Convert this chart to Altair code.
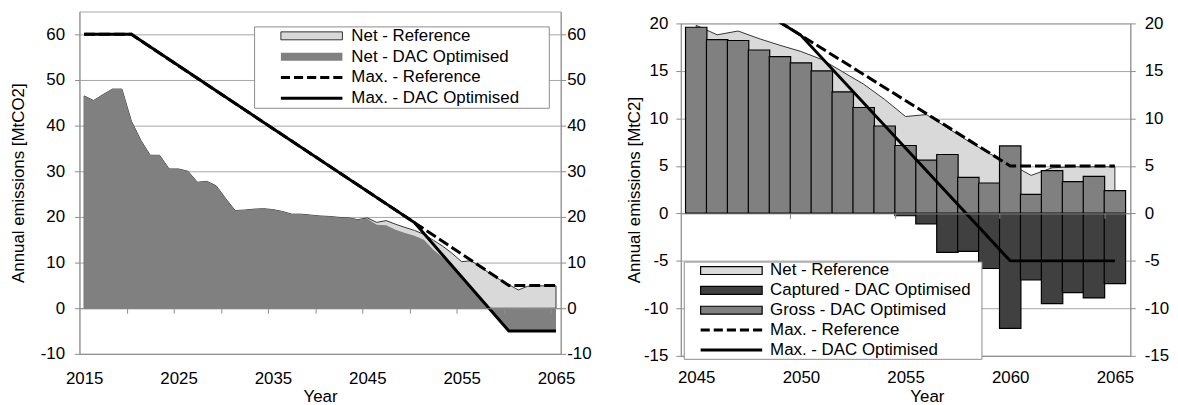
import altair as alt
import pandas as pd

FONT = "Liberation Sans"

# ---------------- data ----------------
years_left = list(range(2015, 2066))
net_reference = [46.5, 45.5, 46.8, 48.0, 48.0, 41.0, 36.8, 33.5, 33.5, 30.5,
                 30.5, 30.0, 27.6, 27.8, 26.8, 24.0, 21.4, 21.5, 21.7, 21.8,
                 21.6, 21.2, 20.6, 20.6, 20.4, 20.2, 20.1, 19.9, 19.8, 19.4,
                 19.8, 18.8, 19.2, 18.4, 17.7, 17.05, 16.2, 14.9, 13.6, 12.0,
                 10.2, 10.4, 9.0, 7.6, 6.3, 5.2, 4.0, 4.8, 4.9, 4.9,
                 4.9]
net_dac_optimised = [46.5, 45.5, 46.8, 48.0, 48.0, 41.0, 36.8, 33.5, 33.5, 30.5,
                     30.5, 30.0, 27.6, 27.8, 26.8, 24.0, 21.4, 21.5, 21.7, 21.8,
                     21.6, 21.2, 20.6, 20.6, 20.4, 20.2, 20.1, 19.9, 19.8, 19.4,
                     19.6, 18.3, 18.2, 17.2, 16.5, 15.85, 15.0, 12.8, 11.15, 9.2,
                     6.9, 4.5, 2.1, -0.2, -2.6, -5.0, -5.0, -5.0, -5.0, -5.0,
                     -5.0]

years_right = list(range(2045, 2066))
gross_dac_optimised = [19.6, 18.3, 18.2, 17.2, 16.5, 15.85, 15.0, 12.8, 11.15, 9.2,
                       7.15, 5.6, 6.2, 3.8, 3.2, 7.1, 2.0, 4.5, 3.35, 3.9,
                       2.4]
captured_dac_optimised = [0, 0, 0, 0, 0, 0, 0, 0, 0, 0,
                          -0.25, -1.1, -4.1, -4.0, -5.8, -12.1, -7.0, -9.5, -8.35, -8.9,
                          -7.4]

max_years = [2015, 2020, 2050, 2060, 2065]
max_reference = [60, 60, 18.75, 5, 5]
max_dac_optimised = [60, 60, 18.75, -5, -5]

left_y_ticks = [-10, 0, 10, 20, 30, 40, 50, 60]
left_x_labels = [2015, 2025, 2035, 2045, 2055, 2065]
left_x_ticks = [2019.5, 2024.5, 2029.5, 2034.5, 2039.5, 2044.5, 2049.5, 2054.5, 2059.5, 2064.5]
right_y_ticks = [-15, -10, -5, 0, 5, 10, 15, 20]
right_x_labels = [2045, 2050, 2055, 2060, 2065]
right_x_ticks = [2049.5, 2054.5, 2059.5, 2064.5]

left_legend_names = ["Net - Reference", "Net - DAC Optimised",
                     "Max. - Reference", "Max. - DAC Optimised"]
right_legend_names = ["Net - Reference", "Captured - DAC Optimised", "Gross - DAC Optimised",
                      "Max. - Reference", "Max. - DAC Optimised"]

# ---------------- styles ----------------
LIGHT, MID, DARK = "#d9d9d9", "#808080", "#404040"
OUTLINE = "#333333"
GRID, AXIS = "#a6a6a6", "#8c8c8c"
NEG_EXPR = "(datum.value < 0 ? '-' : '') + abs(datum.value)"
ZW = "\u200b"


def box(x0, x1, y0, y1):
    return f"M{x0:.4f},{y0:.4f}H{x1:.4f}V{y1:.4f}H{x0:.4f}Z"


def swatches(sym_px, sw_w, sw_h, line_w, dash, gap):
    u = sym_px / 2.0
    hw = sw_w / 2.0
    rect = box(-hw / u, hw / u, -sw_h / 2 / u, sw_h / 2 / u)
    lh = line_w / 2 / u
    solid = box(-hw / u, hw / u, -lh, lh)
    parts = []
    x = -hw
    while x < hw - 0.5:
        x1 = min(x + dash, hw)
        parts.append(box(x / u, x1 / u, -lh, lh))
        x = x1 + gap
    return rect, solid, "".join(parts)


def legend_layer(names, fills, strokes, shapes, legend):
    df = pd.DataFrame({"series": names})
    return alt.Chart(df).mark_point(filled=True, opacity=1).encode(
        fill=alt.Fill("series:N", scale=alt.Scale(domain=names, range=fills), legend=legend),
        stroke=alt.Stroke("series:N", scale=alt.Scale(domain=names, range=strokes), legend=legend),
        shape=alt.Shape("series:N", scale=alt.Scale(domain=names, range=shapes), legend=legend),
    ).transform_filter("false")


left_df = pd.DataFrame({"year": years_left, "ref": net_reference, "dac": net_dac_optimised})
right_df = pd.DataFrame({"year": years_right, "gross": gross_dac_optimised,
                         "captured": captured_dac_optimised})
max_df = pd.DataFrame({"year": max_years, "ref": max_reference, "dac": max_dac_optimised})

# ---------------- left panel ----------------
LW, LH = 485, 345
lx = alt.Scale(domain=[2014.5, 2065.5], nice=False, zero=False)
ly = alt.Scale(domain=[-10, 65], nice=False, zero=False)

l_ref = alt.Chart(left_df).mark_area(fill=LIGHT, stroke=OUTLINE, strokeWidth=1).encode(
    x=alt.X("year:Q", scale=lx, axis=alt.Axis(
        orient="bottom", values=left_x_labels, ticks=False, grid=False, labelPadding=17,
        labelFlush=False, format="d", domainColor=AXIS, title="Year",
        titleX=LW / 2, titleY=43, titleBaseline="middle")),
    y=alt.Y("ref:Q", scale=ly, axis=alt.Axis(
        orient="left", values=left_y_ticks, grid=True, gridColor=GRID, tickSize=5,
        tickColor=AXIS, domainColor=AXIS, labelPadding=10, labelExpr=NEG_EXPR,
        title="Annual emissions [MtCO2]", titlePadding=13)),
)
l_dac = alt.Chart(left_df).mark_area(fill=MID).encode(
    x=alt.X("year:Q", scale=lx, axis=None),
    y=alt.Y("dac:Q", scale=ly, axis=None),
)
l_maxref = alt.Chart(max_df).mark_line(color="black", strokeWidth=3, strokeDash=[11, 4], clip=True).encode(
    x=alt.X("year:Q", scale=lx, axis=alt.Axis(
        orient="bottom", values=left_x_ticks, labels=False, ticks=True, tickSize=5,
        tickColor=AXIS, domainColor=AXIS, grid=False, title=None,
        offset=-LH * 10 / 75, zindex=1)),
    y=alt.Y("ref:Q", scale=ly, axis=alt.Axis(
        orient="right", values=left_y_ticks, grid=False, tickSize=5, tickColor=AXIS,
        domainColor=AXIS, labelPadding=1, labelExpr=NEG_EXPR, title=None)),
)
l_maxdac = alt.Chart(max_df).mark_line(color="black", strokeWidth=3, clip=True).encode(
    x=alt.X("year:Q", scale=lx, axis=None),
    y=alt.Y("dac:Q", scale=ly, axis=None),
)

L_SYM = 70.9
l_rect, l_solid, l_dashed = swatches(L_SYM, 62, 8, 3, 9.2, 4)
l_legend = alt.Legend(
    title=None, orient="none", legendX=176, legendY=15, padding=1,
    fillColor="white", strokeColor=AXIS, symbolSize=L_SYM ** 2, symbolStrokeWidth=1,
    symbolOffset=21, labelOffset=4, clipHeight=17, rowPadding=3, symbolOpacity=1,
    labelFont=FONT, labelFontSize=17, labelColor="black", labelLimit=400,
    labelExpr="datum.label + '      " + ZW + "'", zindex=1)
l_leg = legend_layer(left_legend_names, [LIGHT, MID, "black", "black"],
                     [OUTLINE, "transparent", "transparent", "transparent"],
                     [l_rect, l_rect, l_dashed, l_solid], l_legend)

left = alt.layer(l_ref, l_dac, l_maxref, l_maxdac, l_leg).resolve_axis(
    x="independent", y="independent").properties(width=LW, height=LH)

# ---------------- right panel ----------------
RW, RH = 453, 335
rx = alt.Scale(domain=[2044.5, 2065.5], nice=False, zero=False)
ry = alt.Scale(domain=[-15, 20], nice=False, zero=False)

r_ref = alt.Chart(left_df).transform_filter(alt.datum.year >= 2045).mark_area(
    fill=LIGHT, stroke=OUTLINE, strokeWidth=1, clip=True).encode(
    x=alt.X("year:Q", scale=rx, axis=alt.Axis(
        orient="bottom", values=right_x_labels, ticks=False, grid=False, labelPadding=14,
        labelFlush=False, format="d", domainColor=AXIS, title="Year",
        titleX=248, titleY=41, titleBaseline="middle")),
    y=alt.Y("ref:Q", scale=ry, axis=alt.Axis(
        orient="left", values=right_y_ticks, grid=True, gridColor=GRID, tickSize=5,
        tickColor=AXIS, domainColor=AXIS, labelPadding=8, labelExpr=NEG_EXPR,
        title="Annual emissions [MtC2]", titlePadding=0)),
)
bar_w = RW / len(years_right)
r_gross = alt.Chart(right_df).mark_bar(size=bar_w, fill=MID, stroke="black", strokeWidth=1.2).encode(
    x=alt.X("year:Q", scale=rx, axis=None),
    y=alt.Y("gross:Q", scale=ry, axis=None),
)
r_capt = alt.Chart(right_df).mark_bar(size=bar_w, fill=DARK, stroke="black", strokeWidth=1.2).encode(
    x=alt.X("year:Q", scale=rx, axis=None),
    y=alt.Y("captured:Q", scale=ry, axis=None),
)
r_maxref = alt.Chart(max_df).mark_line(color="black", strokeWidth=3, strokeDash=[11, 4], clip=True).encode(
    x=alt.X("year:Q", scale=rx, axis=alt.Axis(
        orient="bottom", values=right_x_ticks, labels=False, ticks=True, tickSize=5,
        tickColor=AXIS, domainColor=AXIS, grid=False, title=None,
        offset=-RH * 15 / 35, zindex=1)),
    y=alt.Y("ref:Q", scale=ry, axis=alt.Axis(
        orient="right", values=right_y_ticks, grid=False, tickSize=5, tickColor=AXIS,
        domainColor=AXIS, labelPadding=9, labelExpr=NEG_EXPR, title=None)),
)
r_maxdac = alt.Chart(max_df).mark_line(color="black", strokeWidth=3, clip=True).encode(
    x=alt.X("year:Q", scale=rx, axis=None),
    y=alt.Y("dac:Q", scale=ry, axis=None),
)

R_SYM = 68.7
r_rect, r_solid, r_dashed = swatches(R_SYM, 62, 8, 3, 9.2, 4)
r_legend = alt.Legend(
    title=None, orient="none", legendX=3, legendY=252, padding=1,
    fillColor="white", strokeColor=AXIS, symbolSize=R_SYM ** 2, symbolStrokeWidth=1.2,
    symbolOffset=12, labelOffset=4, clipHeight=16, rowPadding=3, symbolOpacity=1,
    labelFont=FONT, labelFontSize=17, labelColor="black", labelLimit=400,
    labelExpr="datum.label + '  " + ZW + "'", zindex=1)
r_leg = legend_layer(right_legend_names, [LIGHT, DARK, MID, "black", "black"],
                     ["black", "black", "black", "transparent", "transparent"],
                     [r_rect, r_rect, r_rect, r_dashed, r_solid], r_legend)

right = alt.layer(r_ref, r_gross, r_capt, r_maxref, r_maxdac, r_leg).resolve_axis(
    x="independent", y="independent").properties(width=RW, height=RH)

# thin empty spacer so the right panel sits a little lower than the left one
spacer = alt.Chart(pd.DataFrame({"s": [0]})).mark_point(opacity=0).encode(
    x=alt.value(0), y=alt.value(0)
).transform_filter("false").properties(
    width=RW, height=1, view=alt.ViewBackground(stroke="transparent"))

chart = alt.hconcat(left, alt.vconcat(spacer, right, spacing=0), spacing=32).resolve_scale(
    fill="independent", stroke="independent", shape="independent"
).properties(
    padding={"left": 0, "top": 1, "right": 0, "bottom": 0}, background="white"
).configure_view(stroke=GRID).configure_axis(
    labelFont=FONT, labelFontSize=17, labelColor="black",
    titleFont=FONT, titleFontSize=17, titleColor="black", titleFontWeight="normal",
)

chart.save("out.html", embed_options={"renderer": "svg", "actions": False})
